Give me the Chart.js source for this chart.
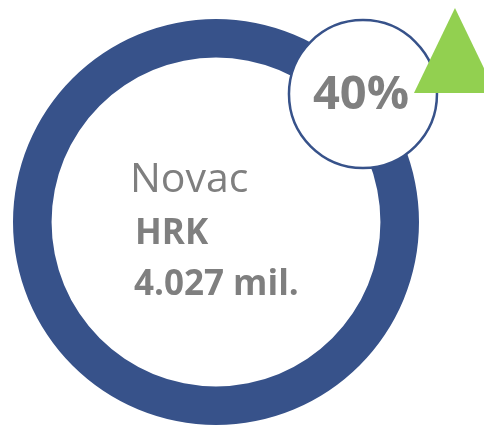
<!DOCTYPE html>
<html>
<head>
<meta charset="utf-8">
<script src="https://cdn.jsdelivr.net/npm/chart.js@4.4.0/dist/chart.umd.min.js"></script>
<style>
  html, body { margin: 0; padding: 0; background: #fff; }
  #wrap { width: 484px; height: 425px; }
</style>
</head>
<body>
<div id="wrap"><canvas id="novacChart" width="484" height="425"></canvas></div>
<script>
// chart data
const labels = ["Novac"];
const values = [4.027];
const currency = "HRK";
const valueText = ["4.027 mil."];
const changeText = "40%";

const ringColor = "#37528A";
const textColor = "#7F7F7F";
const arrowColor = "#92D050";
const font = "'Open Sans', 'Liberation Sans', sans-serif";

// draws the centre text, the percentage badge and the up arrow
const overlayPlugin = {
    id: "overlay",
    afterDraw(chart) {
        const arc = chart.getDatasetMeta(0).data[0];
        const ctx = chart.ctx;
        const cx = arc.x, cy = arc.y;
        const r = arc.outerRadius;

        ctx.save();
        ctx.fillStyle = textColor;
        ctx.textBaseline = "alphabetic";
        ctx.textAlign = "left";
        ctx.font = "41px " + font;
        ctx.fillText(labels[0], cx - 86, cy - 30);
        ctx.font = "bold 35px " + font;
        ctx.fillText(currency, cx - 81, cy + 22);
        ctx.fillText(valueText[0], cx - 82, cy + 73);

        // badge circle
        const bx = cx + r * 0.724, by = cy - r * 0.63;
        ctx.beginPath();
        ctx.arc(bx, by, 74, 0, Math.PI * 2);
        ctx.fillStyle = "#fff";
        ctx.fill();
        ctx.lineWidth = 2.5;
        ctx.strokeStyle = ringColor;
        ctx.stroke();

        ctx.fillStyle = textColor;
        ctx.textAlign = "center";
        ctx.font = "bold 47px " + font;
        ctx.fillText(changeText, bx - 2, by + 15);

        // up arrow
        const ax = bx + 92, ay = by - 86;
        ctx.beginPath();
        ctx.moveTo(ax, ay);
        ctx.lineTo(ax + 41, ay + 85);
        ctx.lineTo(ax - 41, ay + 85);
        ctx.closePath();
        ctx.fillStyle = arrowColor;
        ctx.fill();
        ctx.restore();
    }
};

const ctx = document.getElementById("novacChart").getContext("2d");
new Chart(ctx, {
    type: "doughnut",
    data: {
        labels: labels,
        datasets: [{
            data: values,
            backgroundColor: [ringColor],
            borderWidth: 0
        }]
    },
    options: {
        responsive: false,
        animation: false,
        cutout: "81%",
        layout: {
            padding: { left: 13, right: 65, top: 19, bottom: 0 }
        },
        plugins: {
            legend: { display: false },
            tooltip: { enabled: false }
        }
    },
    plugins: [overlayPlugin]
});
</script>
</body>
</html>
